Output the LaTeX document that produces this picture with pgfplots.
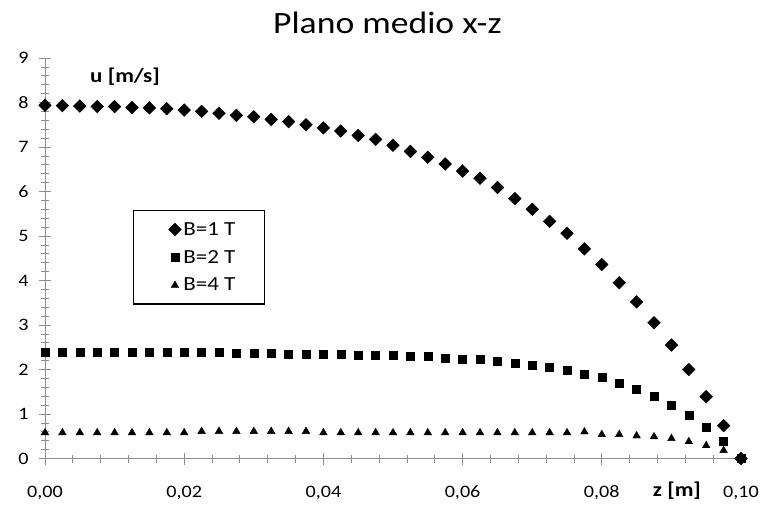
\documentclass[border=0pt]{standalone}
\usepackage{pgfplots}
\pgfplotsset{compat=1.18}
\usepackage{pgfplotstable}
\usepackage{fontspec}
\setmainfont{Carlito}[FakeStretch=1.15]

\pgfplotstableread{
x y
0 7.94
0.0025 7.93
0.005 7.92
0.0075 7.91
0.01 7.91
0.0125 7.89
0.015 7.88
0.0175 7.86
0.02 7.83
0.0225 7.80
0.025 7.76
0.0275 7.71
0.03 7.68
0.0325 7.62
0.035 7.57
0.0375 7.50
0.04 7.43
0.0425 7.36
0.045 7.26
0.0475 7.17
0.05 7.04
0.0525 6.90
0.055 6.77
0.0575 6.62
0.06 6.46
0.0625 6.30
0.065 6.09
0.0675 5.84
0.07 5.60
0.0725 5.33
0.075 5.06
0.0775 4.71
0.08 4.36
0.0825 3.95
0.085 3.52
0.0875 3.05
0.09 2.55
0.0925 2.00
0.095 1.39
0.0975 0.74
0.1 0.0
}\bone

\pgfplotstableread{
x y
0 2.39
0.0025 2.39
0.005 2.39
0.0075 2.39
0.01 2.39
0.0125 2.39
0.015 2.39
0.0175 2.39
0.02 2.38
0.0225 2.38
0.025 2.38
0.0275 2.36
0.03 2.36
0.0325 2.36
0.035 2.35
0.0375 2.35
0.04 2.35
0.0425 2.34
0.045 2.33
0.0475 2.33
0.05 2.33
0.0525 2.30
0.055 2.29
0.0575 2.26
0.06 2.24
0.0625 2.23
0.065 2.19
0.0675 2.15
0.07 2.10
0.0725 2.05
0.075 1.99
0.0775 1.89
0.08 1.82
0.0825 1.69
0.085 1.56
0.0875 1.40
0.09 1.20
0.0925 0.98
0.095 0.71
0.0975 0.38
0.1 0.0
}\btwo

\pgfplotstableread{
x y
0 0.58
0.0025 0.58
0.005 0.58
0.0075 0.58
0.01 0.58
0.0125 0.58
0.015 0.58
0.0175 0.58
0.02 0.58
0.0225 0.61
0.025 0.61
0.0275 0.61
0.03 0.61
0.0325 0.61
0.035 0.61
0.0375 0.61
0.04 0.58
0.0425 0.58
0.045 0.58
0.0475 0.58
0.05 0.58
0.0525 0.58
0.055 0.58
0.0575 0.58
0.06 0.58
0.0625 0.58
0.065 0.58
0.0675 0.58
0.07 0.58
0.0725 0.58
0.075 0.58
0.0775 0.60
0.08 0.54
0.0825 0.54
0.085 0.51
0.0875 0.49
0.09 0.45
0.0925 0.38
0.095 0.29
0.0975 0.18
0.1 0.0
}\bfour

\begin{document}
\begin{tikzpicture}
\begin{axis}[
  scale only axis,
  width=696pt, height=400.5pt,
  xmin=0, xmax=0.1, ymin=0, ymax=9,
  axis lines=left,
  axis line style={-, gray!90, line width=0.9pt},
  clip=false,
  xtick={0,0.02,...,0.1},
  ytick={0,1,...,9},
  minor x tick num=4,
  minor y tick num=4,
  tick align=center,
  major tick length=12pt,
  minor tick length=8pt,
  tick style={gray!90, line width=0.8pt},
  scaled x ticks=false,
  xticklabel style={font=\fontsize{17.5}{20}\selectfont, /pgf/number format/.cd, fixed, fixed zerofill, precision=2, use comma, assume math mode=true},
  yticklabel style={font=\fontsize{17.5}{20}\selectfont, /pgf/number format/assume math mode=true},
  xticklabel shift=18pt,
  yticklabel shift=7pt,
  legend style={at={(axis cs:0.01264,5.58)}, anchor=north west, draw=black, line width=1.2pt,
    font=\fontsize{20}{24}\selectfont, row sep=9.5pt, inner xsep=35pt, inner ysep=9.5pt},
  legend cell align=left,
]
\addplot[forget plot, only marks, mark=square*, mark size=4.5pt, mark options={rotate=45, fill=black, draw=black}, black] table {\bone};
\addplot[forget plot, only marks, mark=square*, mark size=4pt, mark options={fill=black, draw=black}, black] table {\btwo};
\addplot[forget plot, only marks, mark=triangle*, mark size=4.4pt, mark options={fill=black, draw=black}, black] table {\bfour};
\addlegendimage{legend image code/.code={\draw[black, line width=0.4pt, only marks, mark=square*, mark size=4.5pt, mark options={rotate=45, fill=black}] plot coordinates {(0pt,0pt)};}}
\addlegendimage{legend image code/.code={\draw[black, line width=0.4pt, only marks, mark=square*, mark size=4pt, mark options={fill=black}] plot coordinates {(0pt,0pt)};}}
\addlegendimage{legend image code/.code={\draw[black, line width=0.4pt, only marks, mark=triangle*, mark size=4.4pt, mark options={fill=black}] plot coordinates {(0pt,0pt)};}}
\legend{B=1 T\hspace*{-8pt}, B=2 T\hspace*{-8pt}, B=4 T\hspace*{-8pt}}
\node[anchor=base, font=\fontsize{31}{36}\selectfont] at (axis cs:0.0492,9.54) {Plano medio x-z};
\node[font=\fontsize{20}{24}\selectfont\bfseries] at (axis cs:0.0115,8.57) {u [m/s]};
\node[font=\fontsize{20}{24}\selectfont\bfseries] at (axis cs:0.0908,-0.72) {z [m]};
\end{axis}
\pgfresetboundingbox
\path (-45pt,-45.5pt) rectangle (717pt,458.5pt);
\end{tikzpicture}
\end{document}
